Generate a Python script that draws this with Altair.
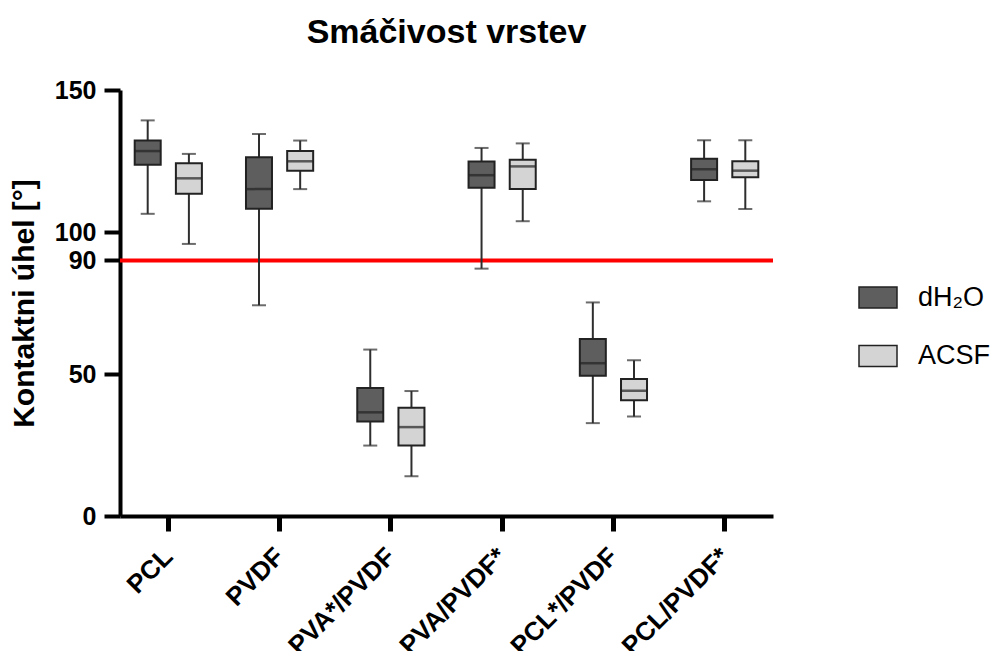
import altair as alt
import pandas as pd

categories = ["PCL", "PVDF", "PVA*/PVDF", "PVA/PVDF*", "PCL*/PVDF", "PCL/PVDF*"]
media = ["dH₂O", "ACSF"]

h2o_min = [106.4, 74.2, 24.8, 87.1, 32.7, 110.8]
h2o_q1 = [123.7, 108.2, 33.3, 115.6, 49.4, 118.3]
h2o_med = [128.5, 115.1, 36.5, 120.0, 53.8, 122.1]
h2o_q3 = [132.2, 126.3, 45.1, 124.8, 62.3, 125.8]
h2o_max = [139.3, 134.5, 58.6, 129.6, 75.2, 132.3]

acsf_min = [95.8, 115.1, 14.0, 103.8, 35.0, 108.1]
acsf_q1 = [113.5, 121.6, 24.8, 115.1, 40.8, 119.3]
acsf_med = [118.9, 124.9, 31.3, 123.1, 44.1, 121.6]
acsf_q3 = [124.2, 128.5, 38.1, 125.4, 48.2, 124.9]
acsf_max = [127.5, 132.2, 44.0, 131.2, 54.8, 132.3]

y_ticks = [0, 50, 90, 100, 150]
threshold = 90

rows = []
for medium, mn, q1, md, q3, mx in [
    (media[0], h2o_min, h2o_q1, h2o_med, h2o_q3, h2o_max),
    (media[1], acsf_min, acsf_q1, acsf_med, acsf_q3, acsf_max),
]:
    for i, c in enumerate(categories):
        rows.append({"cat": c, "medium": medium, "min": mn[i], "q1": q1[i],
                     "med": md[i], "q3": q3[i], "max": mx[i]})
df = pd.DataFrame(rows)

FONT = "Liberation Sans"

x_enc = alt.X("cat:N", sort=categories,
              scale=alt.Scale(paddingInner=0.3, paddingOuter=0.084),
              axis=alt.Axis(title=None, labelAngle=-45, labelFontSize=26,
                            labelFontWeight="bold", tickSize=15, tickWidth=5,
                            domainWidth=4, labelPadding=12, labelOffset=-9))
xo_enc = alt.XOffset("medium:N", sort=media,
                     scale=alt.Scale(domain=media, paddingInner=0.2, paddingOuter=0.0455))
y_scale = alt.Scale(domain=[0, 150])
y_axis = alt.Axis(title="Kontaktni úhel [°]", values=y_ticks, labelFontSize=25,
                  labelFontWeight="bold", tickSize=16, tickWidth=4, domainWidth=4,
                  labelPadding=8, titleFontSize=30, titleFontWeight="bold",
                  titlePadding=15)

base = alt.Chart(df)

red = alt.Chart(pd.DataFrame({"v": [threshold]})).mark_rule(
    color="#ff0000", strokeWidth=4).encode(y=alt.Y("v:Q", scale=y_scale, axis=y_axis))

whisk = base.mark_rule(color="#2e2e2e", strokeWidth=2).encode(
    x=x_enc, xOffset=xo_enc,
    y=alt.Y("min:Q", scale=y_scale, axis=y_axis), y2="max:Q")

cap_lo = base.mark_tick(color="#2e2e2e", size=14, thickness=2).encode(
    x=x_enc, xOffset=xo_enc, y=alt.Y("min:Q", scale=y_scale, axis=y_axis))
cap_hi = base.mark_tick(color="#2e2e2e", size=14, thickness=2).encode(
    x=x_enc, xOffset=xo_enc, y=alt.Y("max:Q", scale=y_scale, axis=y_axis))

box = base.mark_bar(width=26, stroke="#222222", strokeWidth=2).encode(
    x=x_enc, xOffset=xo_enc,
    y=alt.Y("q1:Q", scale=y_scale, axis=y_axis), y2="q3:Q",
    fill=alt.Fill("medium:N",
                  scale=alt.Scale(domain=media, range=["#5e5e5e", "#d4d4d4"]),
                  legend=alt.Legend(title=None, orient="none", legendX=738, legendY=187.5,
                                    symbolType="M-1,-0.553H1V0.553H-1Z", symbolSize=1444,
                                    symbolStrokeColor="#222222", symbolStrokeWidth=1.5,
                                    labelFontSize=27, labelFont=FONT, labelOffset=20,
                                    rowPadding=24.5, padding=0, labelColor="black")))

med = base.mark_tick(color="#222222", size=26, thickness=2.5).encode(
    x=x_enc, xOffset=xo_enc, y=alt.Y("med:Q", scale=y_scale, axis=y_axis))

chart = alt.layer(red, whisk, cap_lo, cap_hi, box, med).properties(
    width=653, height=426,
    title=alt.TitleParams("Smáčivost vrstev", fontSize=34, fontWeight="bold",
                          font=FONT, color="black", anchor="middle", frame="group",
                          offset=28),
    autosize=alt.AutoSizeParams(type="none"),
    padding={"left": 112, "top": 82, "right": 218, "bottom": 135},
).configure_axis(
    grid=False, domainColor="black", tickColor="black", labelColor="black",
    titleColor="black", labelFont=FONT, titleFont=FONT,
).configure_view(stroke=None)

chart.save("out.html", embed_options={"renderer": "svg", "actions": False})
